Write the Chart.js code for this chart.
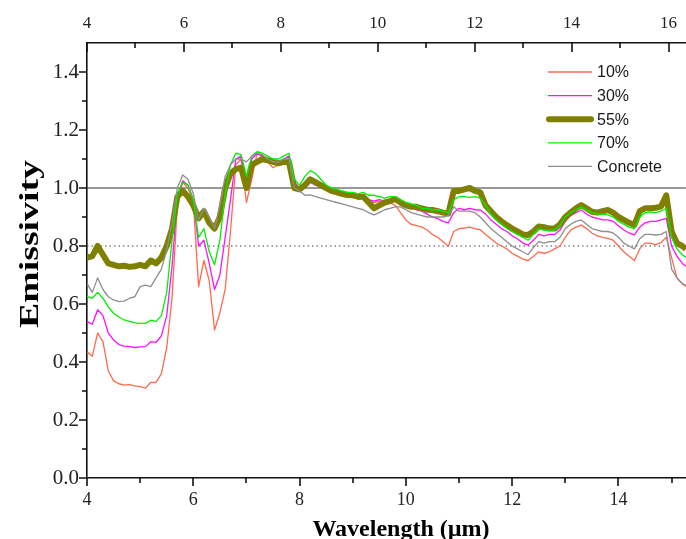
<!DOCTYPE html>
<html>
<head>
<meta charset="utf-8">
<title>Emissivity spectra</title>
<script src="https://cdn.jsdelivr.net/npm/chart.js@4.4.0/dist/chart.umd.min.js"></script>
<style>
  html, body { margin: 0; padding: 0; background: #fff; }
  #wrap { width: 686px; height: 539px; }
</style>
</head>
<body>
<div id="wrap"><canvas id="chart" width="686" height="539"></canvas></div>
<script>
// Wavelength grid (um), shared by every spectrum
const wavelength = [
  4.0, 4.1, 4.2, 4.3, 4.4, 4.5, 4.6, 4.7, 4.8, 4.9,
  5.0, 5.1, 5.2, 5.3, 5.4, 5.5, 5.6, 5.7, 5.8, 5.9,
  6.0, 6.1, 6.2, 6.3, 6.4, 6.5, 6.6, 6.7, 6.8, 6.9,
  7.0, 7.1, 7.2, 7.3, 7.4, 7.5, 7.6, 7.7, 7.8, 7.9,
  8.0, 8.1, 8.2, 8.3, 8.4, 8.5, 8.6, 8.7, 8.8, 8.9,
  9.0, 9.1, 9.2, 9.3, 9.4, 9.5, 9.6, 9.7, 9.8, 9.9,
  10.0, 10.1, 10.2, 10.3, 10.4, 10.5, 10.6, 10.7, 10.8, 10.9,
  11.0, 11.1, 11.2, 11.3, 11.4, 11.5, 11.6, 11.7, 11.8, 11.9,
  12.0, 12.1, 12.2, 12.3, 12.4, 12.5, 12.6, 12.7, 12.8, 12.9,
  13.0, 13.1, 13.2, 13.3, 13.4, 13.5, 13.6, 13.7, 13.8, 13.9,
  14.0, 14.1, 14.2, 14.3, 14.4, 14.5, 14.6, 14.7, 14.8, 14.9,
  15.0, 15.1, 15.2, 15.27
];

const em10 = [
  0.435, 0.42, 0.50, 0.47, 0.37, 0.335, 0.325, 0.32, 0.322, 0.318,
  0.315, 0.31, 0.33, 0.33, 0.36, 0.45, 0.62, 0.94, 1.02, 1.0,
  0.95, 0.66, 0.75, 0.68, 0.51, 0.57, 0.65, 0.85, 1.08, 1.10,
  0.95, 1.03, 1.12, 1.11, 1.09, 1.07, 1.08, 1.09, 1.10, 1.02,
  1.0, 1.02, 1.03, 1.02, 1.01, 1.0, 0.99, 0.98, 0.985, 0.97,
  0.975, 0.96, 0.965, 0.955, 0.95, 0.955, 0.945, 0.95, 0.94, 0.915,
  0.89, 0.875, 0.87, 0.865, 0.855, 0.84, 0.83, 0.815, 0.80, 0.85,
  0.86, 0.862, 0.865, 0.86, 0.856, 0.84, 0.825, 0.81, 0.80, 0.79,
  0.775, 0.765, 0.755, 0.75, 0.765, 0.78, 0.775, 0.78, 0.79, 0.80,
  0.83, 0.855, 0.865, 0.872, 0.86, 0.845, 0.835, 0.83, 0.826, 0.82,
  0.80, 0.78, 0.765, 0.75, 0.79, 0.81, 0.81, 0.805, 0.812, 0.83,
  0.76, 0.69, 0.67, 0.66
];

const em30 = [
  0.54, 0.53, 0.58, 0.56, 0.50, 0.476, 0.46, 0.455, 0.453, 0.45,
  0.452, 0.453, 0.47, 0.468, 0.49, 0.56, 0.73, 0.97, 1.025, 1.01,
  0.96, 0.80, 0.82, 0.74, 0.65, 0.70, 0.83, 0.96, 1.10, 1.11,
  1.01, 1.10, 1.12, 1.11, 1.10, 1.09, 1.09, 1.10, 1.11, 1.02,
  1.0, 1.01, 1.02, 1.01, 1.005, 1.0, 0.99, 0.985, 0.98, 0.975,
  0.97, 0.965, 0.97, 0.96, 0.955, 0.96, 0.955, 0.96, 0.96, 0.95,
  0.94, 0.935, 0.925, 0.92, 0.91, 0.90, 0.895, 0.885, 0.88, 0.915,
  0.93, 0.925, 0.93, 0.925, 0.924, 0.91, 0.89, 0.875, 0.86, 0.85,
  0.835, 0.825, 0.81, 0.803, 0.82, 0.84, 0.835, 0.84, 0.84, 0.855,
  0.885, 0.905, 0.915, 0.924, 0.91, 0.90, 0.895, 0.89, 0.89, 0.885,
  0.87, 0.855, 0.845, 0.838, 0.865, 0.88, 0.885, 0.885, 0.89, 0.895,
  0.80, 0.765, 0.74, 0.73
];

const em55 = [
  0.76, 0.765, 0.80, 0.77, 0.74, 0.735, 0.73, 0.732, 0.728, 0.73,
  0.735, 0.73, 0.75, 0.74, 0.76, 0.80, 0.86, 0.97, 0.99, 0.97,
  0.94, 0.895, 0.92, 0.88, 0.86, 0.90, 1.0, 1.05, 1.065, 1.07,
  1.0, 1.08, 1.09, 1.10, 1.095, 1.09, 1.085, 1.09, 1.09, 1.0,
  0.995, 1.01, 1.03, 1.02, 1.01, 1.0, 0.99, 0.985, 0.98, 0.976,
  0.975, 0.97, 0.97, 0.95, 0.93, 0.94, 0.95, 0.955, 0.962, 0.95,
  0.94, 0.935, 0.935, 0.93, 0.925, 0.924, 0.92, 0.915, 0.912, 0.99,
  0.99, 0.995, 1.0, 0.99, 0.985, 0.94, 0.92, 0.90, 0.885, 0.872,
  0.86, 0.85, 0.84, 0.838, 0.85, 0.867, 0.865, 0.86, 0.86, 0.875,
  0.90, 0.915, 0.93, 0.941, 0.93, 0.918, 0.915, 0.92, 0.924, 0.915,
  0.90, 0.89, 0.88, 0.872, 0.92, 0.93, 0.93, 0.932, 0.936, 0.975,
  0.85, 0.81, 0.80, 0.79
];

const em70 = [
  0.625, 0.62, 0.64, 0.62, 0.59, 0.568, 0.555, 0.545, 0.54, 0.535,
  0.533, 0.533, 0.544, 0.54, 0.56, 0.64, 0.82, 0.98, 1.02, 1.01,
  0.96, 0.83, 0.86, 0.78, 0.735, 0.82, 0.98, 1.08, 1.12, 1.115,
  1.04, 1.11, 1.125, 1.12, 1.11, 1.10, 1.10, 1.11, 1.12, 1.03,
  1.01, 1.04, 1.06, 1.05, 1.03, 1.01, 1.0, 0.995, 0.99, 0.985,
  0.985, 0.98, 0.985, 0.975, 0.975, 0.97, 0.965, 0.97, 0.97, 0.96,
  0.95, 0.945, 0.94, 0.93, 0.93, 0.925, 0.925, 0.92, 0.915, 0.96,
  0.97, 0.97, 0.968, 0.97, 0.965, 0.94, 0.91, 0.89, 0.875, 0.86,
  0.85, 0.84, 0.83, 0.82, 0.84, 0.86, 0.855, 0.855, 0.855, 0.87,
  0.90, 0.915, 0.925, 0.934, 0.925, 0.915, 0.91, 0.91, 0.907, 0.90,
  0.885, 0.875, 0.865, 0.86, 0.90, 0.915, 0.918, 0.915, 0.92, 0.93,
  0.83, 0.79, 0.77, 0.76
];

const emConcrete = [
  0.67, 0.64, 0.69, 0.65, 0.625, 0.614, 0.608, 0.61, 0.62, 0.625,
  0.66, 0.665, 0.66, 0.69, 0.72, 0.786, 0.88, 1.0, 1.045, 1.03,
  0.98, 0.89, 0.93, 0.90, 0.86, 0.94, 1.04, 1.08, 1.10, 1.10,
  1.09, 1.11, 1.12, 1.115, 1.10, 1.09, 1.09, 1.10, 1.10, 1.0,
  0.99, 0.975, 0.976, 0.97, 0.965, 0.96, 0.955, 0.95, 0.945, 0.94,
  0.935, 0.93, 0.925, 0.915, 0.907, 0.915, 0.925, 0.93, 0.935, 0.935,
  0.925, 0.915, 0.91, 0.905, 0.90, 0.90, 0.90, 0.90, 0.905, 0.935,
  0.92, 0.92, 0.92, 0.915, 0.90, 0.88, 0.86, 0.845, 0.83, 0.815,
  0.80, 0.79, 0.78, 0.77, 0.795, 0.815, 0.81, 0.815, 0.815, 0.83,
  0.86, 0.875, 0.885, 0.89, 0.875, 0.86, 0.855, 0.85, 0.85, 0.845,
  0.83, 0.81, 0.80, 0.79, 0.825, 0.84, 0.84, 0.838, 0.84, 0.85,
  0.72, 0.69, 0.67, 0.665
];

const seriesLabels = ['10%', '30%', '55%', '70%', 'Concrete'];
const referenceLevels = [1.0, 0.8];
const xTitle = 'Wavelength (\u00b5m)';
const yTitle = 'Emissivity';

// axis ranges and tick marks
const xRange = [4, 15.27];
const xTopRange = [4, 16.36];
const yRange = [0, 1.5];
const xMajorTicks = [4, 6, 8, 10, 12, 14];
const xMinorTicks = [5, 7, 9, 11, 13, 15];
const xTopMajorTicks = [4, 6, 8, 10, 12, 14, 16];
const xTopMinorTicks = [5, 7, 9, 11, 13, 15];
const yMajorTicks = [0, 0.2, 0.4, 0.6, 0.8, 1.0, 1.2, 1.4];
const yMinorTicks = [0.1, 0.3, 0.5, 0.7, 0.9, 1.1, 1.3];

const SERIF = '"Liberation Serif", "Times New Roman", serif';
const SANS = '"Liberation Sans", Arial, sans-serif';

const toPoints = vals => wavelength.map((w, i) => ({ x: w, y: vals[i] }));

const styles = [
  { color: '#ff6a4f', width: 1.3, order: 4 },
  { color: '#ff10ff', width: 1.3, order: 3 },
  { color: '#808000', width: 6, order: 2 },
  { color: '#00f000', width: 1.3, order: 1 },
  { color: '#8e8e8e', width: 1.3, order: 0 }
];
const seriesValues = [em10, em30, em55, em70, emConcrete];

const datasets = seriesValues.map((vals, i) => ({
  label: seriesLabels[i],
  data: toPoints(vals),
  borderColor: styles[i].color,
  borderWidth: styles[i].width,
  order: styles[i].order,
  pointRadius: 0,
  tension: 0,
  borderJoinStyle: 'round',
  fill: false
}));

// horizontal reference lines at 1.0 (solid) and 0.8 (dotted)
referenceLevels.forEach((lvl, i) => {
  datasets.push({
    label: 'ref' + lvl,
    data: [{ x: xRange[0], y: lvl }, { x: xRange[1], y: lvl }],
    borderColor: i === 0 ? '#333' : '#444',
    borderWidth: 1.2,
    borderDash: i === 0 ? [] : [1.5, 3],
    order: 10 + i,
    pointRadius: 0,
    fill: false
  });
});

// tick marks: majors longer than minors, top axis points inward
const axisTicks = {
  id: 'axisTicks',
  afterDraw(chart) {
    const { ctx, chartArea: area, scales } = chart;
    ctx.save();
    ctx.strokeStyle = '#111';
    ctx.lineWidth = 1.6;
    ctx.beginPath();
    const vx = (scale, v, y0, len) => {
      const px = Math.round(scale.getPixelForValue(v));
      ctx.moveTo(px, y0);
      ctx.lineTo(px, y0 + len);
    };
    xMajorTicks.forEach(v => vx(scales.x, v, area.bottom, 8));
    xMinorTicks.forEach(v => vx(scales.x, v, area.bottom, 5));
    xTopMajorTicks.forEach(v => vx(scales.x2, v, area.top, 9));
    xTopMinorTicks.forEach(v => vx(scales.x2, v, area.top, 5));
    const hy = (v, len) => {
      const py = Math.round(scales.y.getPixelForValue(v));
      ctx.moveTo(area.left, py);
      ctx.lineTo(area.left - len, py);
    };
    yMajorTicks.forEach(v => hy(v, 8));
    yMinorTicks.forEach(v => hy(v, 5));
    ctx.stroke();
    ctx.restore();
  }
};

// axis titles, the vertical one drawn a little elongated
const axisTitles = {
  id: 'axisTitles',
  afterDraw(chart) {
    const ctx = chart.ctx;
    ctx.save();
    ctx.fillStyle = '#000';
    ctx.textAlign = 'center';
    ctx.textBaseline = 'alphabetic';
    ctx.font = 'bold 24px ' + SERIF;
    ctx.fillText(xTitle, 401, 536);
    ctx.translate(38, 244);
    ctx.rotate(-Math.PI / 2);
    ctx.scale(1.4, 1);
    ctx.font = 'bold 27px ' + SERIF;
    ctx.fillText(yTitle, 0, 0);
    ctx.restore();
  }
};

// legend in the upper right of the plot
const legendBox = {
  id: 'legendBox',
  afterDraw(chart) {
    const ctx = chart.ctx;
    ctx.save();
    ctx.font = '16px ' + SANS;
    ctx.textBaseline = 'middle';
    ctx.fillStyle = '#1a1a1a';
    seriesLabels.forEach((label, i) => {
      const y = 72 + i * 23.6;
      ctx.strokeStyle = styles[i].color;
      ctx.lineWidth = styles[i].width;
      ctx.lineCap = i === 2 ? 'round' : 'butt';
      ctx.beginPath();
      ctx.moveTo(i === 2 ? 549 : 548, y);
      ctx.lineTo(i === 2 ? 591 : 592, y);
      ctx.stroke();
      ctx.fillText(label, 597, y + 1);
    });
    ctx.restore();
  }
};

new Chart(document.getElementById('chart'), {
  type: 'line',
  data: { datasets },
  options: {
    responsive: false,
    animation: false,
    events: [],
    layout: { padding: 0 },
    plugins: {
      legend: { display: false },
      tooltip: { enabled: false }
    },
    scales: {
      x: {
        type: 'linear',
        position: 'bottom',
        min: xRange[0],
        max: xRange[1],
        afterFit(scale) { scale.height = 61; },
        grid: { drawOnChartArea: false, drawTicks: false },
        border: { display: true, color: '#111', width: 1.6 },
        ticks: {
          stepSize: 2,
          includeBounds: false,
          padding: 11,
          color: '#222',
          maxRotation: 0,
          font: { family: SERIF, size: 18 }
        }
      },
      x2: {
        type: 'linear',
        axis: 'x',
        position: 'top',
        min: xTopRange[0],
        max: xTopRange[1],
        afterFit(scale) { scale.height = 43; },
        grid: { drawOnChartArea: false, drawTicks: false },
        border: { display: true, color: '#111', width: 1.6 },
        ticks: {
          stepSize: 2,
          includeBounds: false,
          padding: 9,
          color: '#222',
          maxRotation: 0,
          font: { family: SERIF, size: 17 }
        }
      },
      y: {
        type: 'linear',
        min: yRange[0],
        max: yRange[1],
        afterFit(scale) { scale.width = 87; },
        grid: { drawOnChartArea: false, drawTicks: false },
        border: { display: true, color: '#111', width: 1.6 },
        ticks: {
          stepSize: 0.2,
          includeBounds: false,
          padding: 8,
          color: '#222',
          font: { family: SERIF, size: 21 },
          callback: v => v.toFixed(1)
        }
      }
    }
  },
  plugins: [axisTicks, axisTitles, legendBox]
});
</script>
</body>
</html>
